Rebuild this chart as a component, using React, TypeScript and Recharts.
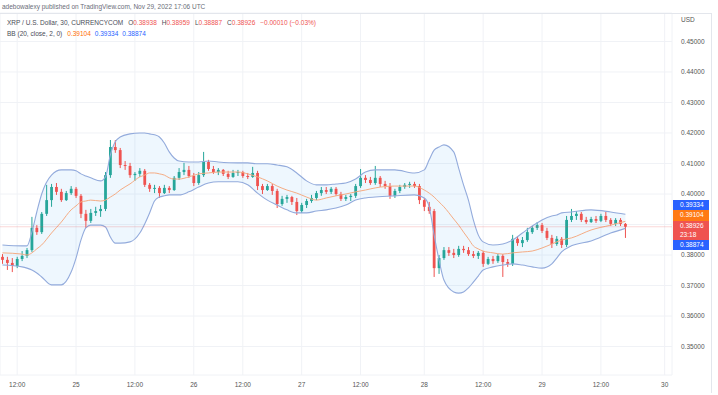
import { ComposedChart, Bar, Line, Area, XAxis, YAxis, CartesianGrid, ReferenceLine } from 'recharts';

// hourly XRP/USD candles (Nov 24 09:00 -> Nov 29 16:00)
const opens = [
  0.3794, 0.3784, 0.3774, 0.3764, 0.3787, 0.3797, 0.3816, 0.3889, 0.3875, 0.3935,
  0.3980, 0.4023, 0.4007, 0.3980, 0.4003, 0.4017, 0.3994, 0.3935, 0.3912, 0.3938,
  0.3944, 0.3951, 0.4062, 0.4154, 0.4144, 0.4095, 0.4092, 0.4062, 0.4066, 0.4076,
  0.4030, 0.4017, 0.4020, 0.4003, 0.4020, 0.4013, 0.4053, 0.4072, 0.4079, 0.4059,
  0.4036, 0.4062, 0.4105, 0.4082, 0.4072, 0.4079, 0.4066, 0.4056, 0.4069, 0.4072,
  0.4059, 0.4056, 0.4069, 0.4026, 0.4013, 0.4026, 0.4010, 0.3967, 0.3984, 0.3990,
  0.3974, 0.3944, 0.3964, 0.3977, 0.3987, 0.4003, 0.4013, 0.4007, 0.4017, 0.4000,
  0.3984, 0.3990, 0.3994, 0.4026, 0.4053, 0.4046, 0.4036, 0.4053, 0.4033, 0.4026,
  0.3994, 0.4010, 0.4023, 0.4030, 0.4033, 0.4026, 0.3980, 0.3958, 0.3944, 0.3757,
  0.3790, 0.3816, 0.3807, 0.3800, 0.3820, 0.3816, 0.3803, 0.3797, 0.3807, 0.3771,
  0.3787, 0.3780, 0.3797, 0.3777, 0.3771, 0.3853, 0.3839, 0.3849, 0.3875, 0.3889,
  0.3898, 0.3879, 0.3856, 0.3836, 0.3853, 0.3833, 0.3915, 0.3928, 0.3935, 0.3915,
  0.3908, 0.3918, 0.3912, 0.3928, 0.3915, 0.3902, 0.3915, 0.3902,
];
const highs = [
  0.3803, 0.3794, 0.3790, 0.3794, 0.3813, 0.3823, 0.3925, 0.3898, 0.3941, 0.4030,
  0.4033, 0.4036, 0.4017, 0.4010, 0.4026, 0.4023, 0.4000, 0.3948, 0.3951, 0.3958,
  0.3964, 0.4072, 0.4177, 0.4177, 0.4151, 0.4108, 0.4102, 0.4072, 0.4085, 0.4082,
  0.4036, 0.4030, 0.4026, 0.4030, 0.4026, 0.4059, 0.4085, 0.4102, 0.4092, 0.4069,
  0.4072, 0.4138, 0.4112, 0.4092, 0.4085, 0.4082, 0.4076, 0.4079, 0.4079, 0.4076,
  0.4069, 0.4089, 0.4076, 0.4033, 0.4033, 0.4033, 0.4017, 0.3994, 0.3997, 0.3994,
  0.3987, 0.3971, 0.3984, 0.3997, 0.4010, 0.4023, 0.4023, 0.4023, 0.4023, 0.4007,
  0.3997, 0.4000, 0.4033, 0.4082, 0.4062, 0.4056, 0.4092, 0.4059, 0.4043, 0.4036,
  0.4017, 0.4030, 0.4036, 0.4040, 0.4040, 0.4033, 0.3987, 0.3974, 0.3951, 0.3800,
  0.3826, 0.3826, 0.3820, 0.3830, 0.3830, 0.3826, 0.3813, 0.3813, 0.3813, 0.3794,
  0.3797, 0.3803, 0.3803, 0.3787, 0.3866, 0.3862, 0.3859, 0.3889, 0.3895, 0.3908,
  0.3905, 0.3889, 0.3866, 0.3862, 0.3859, 0.3928, 0.3951, 0.3944, 0.3941, 0.3925,
  0.3925, 0.3928, 0.3935, 0.3941, 0.3921, 0.3921, 0.3921, 0.3905,
];
const lows = [
  0.3771, 0.3751, 0.3744, 0.3757, 0.3780, 0.3790, 0.3810, 0.3866, 0.3869, 0.3928,
  0.3958, 0.3997, 0.3974, 0.3977, 0.3997, 0.3987, 0.3921, 0.3889, 0.3905, 0.3928,
  0.3925, 0.3944, 0.4053, 0.4135, 0.4085, 0.4079, 0.4053, 0.4043, 0.4056, 0.4023,
  0.4007, 0.4003, 0.3987, 0.4000, 0.4003, 0.4010, 0.4046, 0.4062, 0.4053, 0.4026,
  0.4030, 0.4056, 0.4076, 0.4066, 0.4062, 0.4059, 0.4049, 0.4053, 0.4059, 0.4053,
  0.4049, 0.4053, 0.4013, 0.4000, 0.4010, 0.3997, 0.3954, 0.3961, 0.3971, 0.3964,
  0.3931, 0.3938, 0.3954, 0.3971, 0.3980, 0.3994, 0.4000, 0.4000, 0.3994, 0.3977,
  0.3977, 0.3977, 0.3987, 0.4020, 0.4036, 0.4030, 0.4030, 0.4023, 0.4017, 0.3984,
  0.3987, 0.4003, 0.4017, 0.4020, 0.4020, 0.3967, 0.3944, 0.3935, 0.3728, 0.3738,
  0.3784, 0.3797, 0.3790, 0.3794, 0.3807, 0.3797, 0.3790, 0.3787, 0.3761, 0.3767,
  0.3771, 0.3774, 0.3728, 0.3761, 0.3764, 0.3830, 0.3826, 0.3843, 0.3869, 0.3882,
  0.3872, 0.3849, 0.3823, 0.3830, 0.3823, 0.3826, 0.3908, 0.3915, 0.3908, 0.3902,
  0.3905, 0.3905, 0.3908, 0.3908, 0.3895, 0.3895, 0.3895, 0.3856,
];
const closes = [
  0.3784, 0.3774, 0.3764, 0.3787, 0.3797, 0.3816, 0.3889, 0.3875, 0.3935, 0.3980,
  0.4023, 0.4007, 0.3980, 0.4003, 0.4017, 0.3994, 0.3935, 0.3912, 0.3938, 0.3944,
  0.3951, 0.4062, 0.4154, 0.4144, 0.4095, 0.4092, 0.4062, 0.4066, 0.4076, 0.4030,
  0.4017, 0.4020, 0.4003, 0.4020, 0.4013, 0.4053, 0.4072, 0.4079, 0.4059, 0.4036,
  0.4062, 0.4105, 0.4082, 0.4072, 0.4079, 0.4066, 0.4056, 0.4069, 0.4072, 0.4059,
  0.4056, 0.4069, 0.4026, 0.4013, 0.4026, 0.4010, 0.3967, 0.3984, 0.3990, 0.3974,
  0.3944, 0.3964, 0.3977, 0.3987, 0.4003, 0.4013, 0.4007, 0.4017, 0.4000, 0.3984,
  0.3990, 0.3994, 0.4026, 0.4053, 0.4046, 0.4036, 0.4053, 0.4033, 0.4026, 0.3994,
  0.4010, 0.4023, 0.4030, 0.4033, 0.4026, 0.3980, 0.3958, 0.3944, 0.3757, 0.3790,
  0.3816, 0.3807, 0.3800, 0.3820, 0.3816, 0.3803, 0.3797, 0.3807, 0.3771, 0.3787,
  0.3780, 0.3797, 0.3777, 0.3771, 0.3853, 0.3839, 0.3849, 0.3875, 0.3889, 0.3898,
  0.3879, 0.3856, 0.3836, 0.3853, 0.3833, 0.3915, 0.3928, 0.3935, 0.3915, 0.3908,
  0.3918, 0.3912, 0.3928, 0.3915, 0.3902, 0.3915, 0.3902, 0.38926,
];

// Bollinger band (20, 2) read at some candles
const bbIdx = [
  0, 4, 5, 6, 7, 8, 10, 12, 14, 15, 16, 17, 18, 20, 21, 22, 23, 24, 26, 28,
  29, 30, 31, 32, 33, 34, 35, 36, 38, 40, 42, 44, 48, 50, 52, 54, 56, 58, 60, 62,
  64, 66, 68, 70, 72, 74, 76, 80, 84, 86, 87, 88, 89, 90, 92, 93, 94, 95, 96, 97,
  98, 100, 102, 104, 106, 108, 110, 112, 113, 114, 116, 120, 124, 127,
];
const bbUpper = [
  0.3833, 0.3830, 0.3830, 0.3875, 0.3941, 0.4000, 0.4062, 0.4079, 0.4079, 0.4076,
  0.4066, 0.4059, 0.4053, 0.4043, 0.4056, 0.4128, 0.4171, 0.4187, 0.4197, 0.4200,
  0.4200, 0.4197, 0.4194, 0.4187, 0.4167, 0.4138, 0.4118, 0.4108, 0.4105, 0.4105,
  0.4108, 0.4105, 0.4102, 0.4102, 0.4099, 0.4099, 0.4095, 0.4089, 0.4069, 0.4043,
  0.4030, 0.4030, 0.4033, 0.4036, 0.4049, 0.4072, 0.4079, 0.4079, 0.4069, 0.4079,
  0.4112, 0.4144, 0.4154, 0.4161, 0.4138, 0.4085, 0.4030, 0.3980, 0.3915, 0.3866,
  0.3843, 0.3833, 0.3836, 0.3849, 0.3872, 0.3895, 0.3915, 0.3928, 0.3931, 0.3938,
  0.3941, 0.3948, 0.3941, 0.39334,
];
const bbMid = [
  0.3807, 0.3803, 0.3800, 0.3807, 0.3820, 0.3833, 0.3872, 0.3908, 0.3948, 0.3961,
  0.3974, 0.3977, 0.3980, 0.3977, 0.3980, 0.3990, 0.4000, 0.4013, 0.4033, 0.4056,
  0.4062, 0.4069, 0.4069, 0.4066, 0.4062, 0.4053, 0.4049, 0.4049, 0.4056, 0.4066,
  0.4069, 0.4072, 0.4072, 0.4066, 0.4056, 0.4043, 0.4026, 0.4013, 0.4003, 0.3990,
  0.3980, 0.3987, 0.3994, 0.4000, 0.4007, 0.4013, 0.4020, 0.4026, 0.4026, 0.4013,
  0.4003, 0.3990, 0.3974, 0.3958, 0.3918, 0.3898, 0.3875, 0.3853, 0.3830, 0.3820,
  0.3813, 0.3807, 0.3803, 0.3807, 0.3810, 0.3813, 0.3823, 0.3836, 0.3843, 0.3849,
  0.3856, 0.3882, 0.3898, 0.39104,
];
const bbLower = [
  0.3767, 0.3761, 0.3757, 0.3751, 0.3741, 0.3728, 0.3702, 0.3702, 0.3744, 0.3790,
  0.3849, 0.3889, 0.3898, 0.3898, 0.3892, 0.3859, 0.3839, 0.3839, 0.3843, 0.3872,
  0.3902, 0.3938, 0.3977, 0.3990, 0.3994, 0.3997, 0.3997, 0.3997, 0.4007, 0.4023,
  0.4036, 0.4040, 0.4040, 0.4030, 0.4003, 0.3980, 0.3964, 0.3948, 0.3938, 0.3938,
  0.3944, 0.3948, 0.3954, 0.3964, 0.3980, 0.3987, 0.3990, 0.3994, 0.3997, 0.3987,
  0.3958, 0.3866, 0.3784, 0.3718, 0.3679, 0.3675, 0.3679, 0.3692, 0.3711, 0.3731,
  0.3751, 0.3761, 0.3767, 0.3771, 0.3767, 0.3761, 0.3757, 0.3771, 0.3790, 0.3810,
  0.3830, 0.3846, 0.3872, 0.38874,
];

const timeTickIdx = [3, 15, 27, 39, 49, 61, 73, 86, 98, 110, 122, 135];
const timeTickLabels = ['12:00', '25', '12:00', '26', '12:00', '27', '12:00', '28', '12:00', '29', '12:00', '30'];
const priceTicks = [0.35, 0.36, 0.37, 0.38, 0.39, 0.4, 0.41, 0.42, 0.43, 0.44, 0.45];

const lastPrice = 0.38926;
const SLOTS = 137; // candles + empty right offset

const UP = '#26a69a';
const DOWN = '#ef5350';
const FONT = '"Liberation Sans", Arial, sans-serif';

const rows = Array.from({ length: SLOTS }, (_, i) => {
  const row: any = { i };
  if (i < closes.length) {
    row.o = opens[i];
    row.h = highs[i];
    row.l = lows[i];
    row.c = closes[i];
    row.range = [lows[i], highs[i]];
  }
  const k = bbIdx.indexOf(i);
  if (k >= 0) {
    row.upper = bbUpper[k];
    row.mid = bbMid[k];
    row.lower = bbLower[k];
    row.band = [bbLower[k], bbUpper[k]];
  }
  return row;
});

const Candle = (props: any) => {
  const { x, y, width, height, payload } = props;
  if (!payload || payload.c == null) return null;
  const { o, h, l, c } = payload;
  const top = Math.min(y, y + height);
  const span = Math.abs(height);
  const ppu = span / (h - l || 1e-9);
  const yO = top + (h - o) * ppu;
  const yC = top + (h - c) * ppu;
  const color = c >= o ? UP : DOWN;
  const cx = x + width / 2;
  return (
    <g>
      <line x1={cx} x2={cx} y1={top} y2={top + span} stroke={color} strokeWidth={1} />
      <rect x={cx - 1.4} y={Math.min(yO, yC)} width={2.8} height={Math.max(1, Math.abs(yC - yO))} fill={color} />
    </g>
  );
};

const TimeTick = ({ x, payload }: any) => {
  const k = timeTickIdx.indexOf(payload.value);
  return (
    <text x={x} y={385} dy="0.35em" textAnchor="middle" fontSize={6.5} fill="#555" fontFamily={FONT}>
      {timeTickLabels[k]}
    </text>
  );
};

const PriceTick = ({ y, payload }: any) => (
  <text x={681} y={y} dy="0.35em" textAnchor="start" fontSize={6.5} fill="#555" fontFamily={FONT}>
    {payload.value.toFixed(5)}
  </text>
);

const tags = [
  { top: 200, h: 10, bg: '#2962ff', lines: [bbUpper[bbUpper.length - 1].toFixed(5)] },
  { top: 210, h: 11, bg: '#ff7a14', lines: [bbMid[bbMid.length - 1].toFixed(5)] },
  { top: 221, h: 19, bg: '#ef5350', lines: [lastPrice.toFixed(5), '23:18'] },
  { top: 240, h: 10, bg: '#2962ff', lines: [bbLower[bbLower.length - 1].toFixed(5)] },
];

export default function App() {
  return (
    <div style={{ position: 'absolute', left: 0, top: 0, width: 718, height: 395, background: '#fff', overflow: 'hidden', fontFamily: FONT }}>
      <div style={{ position: 'absolute', left: 0, top: 0 }}>
        <ComposedChart width={711} height={395} data={rows} margin={{ top: 13, right: 0, bottom: 0, left: 0 }}>
          <CartesianGrid stroke="#f0f2f6" />
          <XAxis dataKey="i" type="category" ticks={timeTickIdx} interval={0} axisLine={false} tickLine={false} height={20} tick={<TimeTick />} />
          <YAxis
            orientation="right"
            type="number"
            width={39}
            domain={[0.34066, 0.45934]}
            allowDataOverflow
            ticks={priceTicks}
            axisLine={false}
            tickLine={false}
            tick={<PriceTick />}
          />
          <Area dataKey="band" type="monotone" connectNulls fill="#2196f3" fillOpacity={0.08} stroke="none" isAnimationActive={false} />
          <Line dataKey="upper" type="monotone" connectNulls dot={false} stroke="#93abdc" strokeWidth={1.1} isAnimationActive={false} />
          <Line dataKey="lower" type="monotone" connectNulls dot={false} stroke="#93abdc" strokeWidth={1.1} isAnimationActive={false} />
          <Line dataKey="mid" type="monotone" connectNulls dot={false} stroke="#f5ac84" strokeWidth={1} isAnimationActive={false} />
          <ReferenceLine y={lastPrice} stroke="#ef5350" strokeOpacity={0.22} />
          <Bar dataKey="range" barSize={3} shape={<Candle />} isAnimationActive={false} />
        </ComposedChart>
      </div>

      <div style={{ position: 'absolute', left: 0, top: 13, width: 711, height: 1, background: '#e3e6ec' }} />
      <div style={{ position: 'absolute', left: 711, top: 13, width: 1, height: 380, background: '#e3e6ec' }} />

      <div style={{ position: 'absolute', left: 2, top: 3, fontSize: 6.5, color: '#6a6d78', whiteSpace: 'nowrap' }}>
        adebowalexy published on TradingView.com, Nov 29, 2022 17:06 UTC
      </div>
      <div style={{ position: 'absolute', left: 7, top: 19, fontSize: 6.5, color: '#4a4d57', whiteSpace: 'nowrap' }}>
        <span>XRP / U.S. Dollar, 30, CURRENCYCOM</span>
        <span style={{ marginLeft: 5 }}>O</span><span style={{ color: DOWN }}>0.38938</span>
        <span style={{ marginLeft: 5 }}>H</span><span style={{ color: DOWN }}>0.38959</span>
        <span style={{ marginLeft: 5 }}>L</span><span style={{ color: DOWN }}>0.38887</span>
        <span style={{ marginLeft: 5 }}>C</span><span style={{ color: DOWN }}>0.38926</span>
        <span style={{ marginLeft: 5, color: DOWN }}>−0.00010 (−0.03%)</span>
      </div>
      <div style={{ position: 'absolute', left: 7, top: 29.5, fontSize: 6.5, color: '#4a4d57', whiteSpace: 'nowrap' }}>
        <span>BB (20, close, 2, 0)</span>
        <span style={{ marginLeft: 5, color: '#ff6d00' }}>0.39104</span>
        <span style={{ marginLeft: 4, color: '#2962ff' }}>0.39334</span>
        <span style={{ marginLeft: 4, color: '#2962ff' }}>0.38874</span>
      </div>
      <div style={{ position: 'absolute', left: 681, top: 16, fontSize: 6.5, color: '#555' }}>USD</div>

      {tags.map((t, k) => (
        <div
          key={k}
          style={{
            position: 'absolute', left: 673, top: t.top, width: 36, height: t.h, background: t.bg,
            color: '#fff', fontSize: 6.5, lineHeight: '9px', paddingLeft: 7, boxSizing: 'border-box',
          }}
        >
          {t.lines.map((s, j) => <div key={j}>{s}</div>)}
        </div>
      ))}
    </div>
  );
}
